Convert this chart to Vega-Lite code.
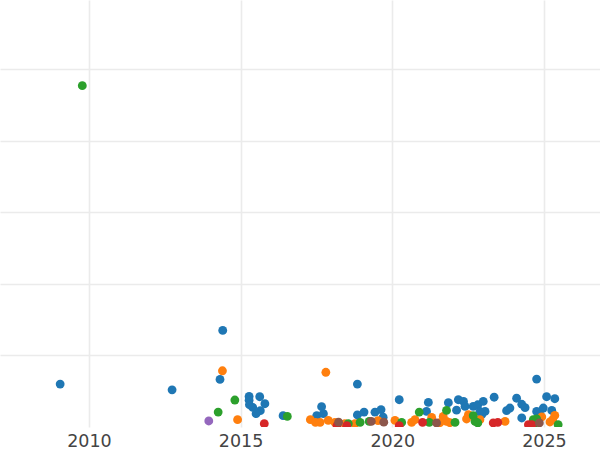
{
  "$schema": "https://vega.github.io/schema/vega-lite/v6.json",
  "width": 600,
  "height": 427,
  "padding": 0,
  "background": "white",
  "config": {
    "view": {"stroke": null},
    "font": "DejaVu Sans",
    "axis": {"gridColor": "#ebebeb", "gridWidth": 1.6, "gridOpacity": 1}
  },
  "data": {
    "values": [
      {"year": 2009.05, "value": 0.60, "group": "A"},
      {"year": 2012.74, "value": 0.52, "group": "A"},
      {"year": 2014.41, "value": 1.35, "group": "A"},
      {"year": 2014.32, "value": 0.665, "group": "A"},
      {"year": 2015.28, "value": 0.427, "group": "A"},
      {"year": 2015.28, "value": 0.374, "group": "A"},
      {"year": 2015.29, "value": 0.311, "group": "A"},
      {"year": 2015.40, "value": 0.274, "group": "A"},
      {"year": 2015.63, "value": 0.423, "group": "A"},
      {"year": 2015.80, "value": 0.325, "group": "A"},
      {"year": 2015.65, "value": 0.228, "group": "A"},
      {"year": 2015.51, "value": 0.186, "group": "A"},
      {"year": 2016.40, "value": 0.158, "group": "A"},
      {"year": 2017.67, "value": 0.284, "group": "A"},
      {"year": 2017.73, "value": 0.186, "group": "A"},
      {"year": 2017.51, "value": 0.158, "group": "A"},
      {"year": 2018.85, "value": 0.60, "group": "A"},
      {"year": 2018.85, "value": 0.168, "group": "A"},
      {"year": 2019.07, "value": 0.209, "group": "A"},
      {"year": 2019.43, "value": 0.207, "group": "A"},
      {"year": 2019.63, "value": 0.242, "group": "A"},
      {"year": 2019.70, "value": 0.137, "group": "A"},
      {"year": 2020.23, "value": 0.381, "group": "A"},
      {"year": 2021.13, "value": 0.218, "group": "A"},
      {"year": 2021.19, "value": 0.344, "group": "A"},
      {"year": 2021.85, "value": 0.339, "group": "A"},
      {"year": 2022.12, "value": 0.235, "group": "A"},
      {"year": 2022.18, "value": 0.381, "group": "A"},
      {"year": 2022.35, "value": 0.358, "group": "A"},
      {"year": 2022.40, "value": 0.288, "group": "A"},
      {"year": 2022.67, "value": 0.288, "group": "A"},
      {"year": 2022.82, "value": 0.311, "group": "A"},
      {"year": 2023.00, "value": 0.358, "group": "A"},
      {"year": 2023.06, "value": 0.218, "group": "A"},
      {"year": 2022.89, "value": 0.218, "group": "A"},
      {"year": 2022.95, "value": 0.172, "group": "A"},
      {"year": 2023.36, "value": 0.416, "group": "A"},
      {"year": 2023.77, "value": 0.228, "group": "A"},
      {"year": 2023.88, "value": 0.265, "group": "A"},
      {"year": 2024.10, "value": 0.402, "group": "A"},
      {"year": 2024.27, "value": 0.318, "group": "A"},
      {"year": 2024.38, "value": 0.270, "group": "A"},
      {"year": 2024.27, "value": 0.126, "group": "A"},
      {"year": 2024.76, "value": 0.670, "group": "A"},
      {"year": 2025.09, "value": 0.423, "group": "A"},
      {"year": 2025.36, "value": 0.395, "group": "A"},
      {"year": 2024.76, "value": 0.218, "group": "A"},
      {"year": 2024.98, "value": 0.265, "group": "A"},
      {"year": 2025.26, "value": 0.232, "group": "A"},
      {"year": 2024.87, "value": 0.172, "group": "A"},
      {"year": 2014.40, "value": 0.786, "group": "B"},
      {"year": 2014.90, "value": 0.102, "group": "B"},
      {"year": 2017.81, "value": 0.765, "group": "B"},
      {"year": 2017.30, "value": 0.102, "group": "B"},
      {"year": 2017.47, "value": 0.064, "group": "B"},
      {"year": 2017.62, "value": 0.064, "group": "B"},
      {"year": 2017.89, "value": 0.092, "group": "B"},
      {"year": 2018.11, "value": 0.064, "group": "B"},
      {"year": 2018.44, "value": 0.046, "group": "B"},
      {"year": 2018.77, "value": 0.046, "group": "B"},
      {"year": 2019.53, "value": 0.088, "group": "B"},
      {"year": 2020.09, "value": 0.092, "group": "B"},
      {"year": 2020.64, "value": 0.064, "group": "B"},
      {"year": 2020.75, "value": 0.102, "group": "B"},
      {"year": 2021.30, "value": 0.134, "group": "B"},
      {"year": 2021.68, "value": 0.148, "group": "B"},
      {"year": 2021.79, "value": 0.078, "group": "B"},
      {"year": 2021.57, "value": 0.060, "group": "B"},
      {"year": 2021.90, "value": 0.060, "group": "B"},
      {"year": 2022.51, "value": 0.172, "group": "B"},
      {"year": 2022.45, "value": 0.112, "group": "B"},
      {"year": 2022.89, "value": 0.102, "group": "B"},
      {"year": 2023.72, "value": 0.078, "group": "B"},
      {"year": 2024.93, "value": 0.140, "group": "B"},
      {"year": 2025.36, "value": 0.162, "group": "B"},
      {"year": 2025.29, "value": 0.102, "group": "B"},
      {"year": 2025.20, "value": 0.070, "group": "B"},
      {"year": 2009.78, "value": 4.771, "group": "C"},
      {"year": 2014.81, "value": 0.377, "group": "C"},
      {"year": 2014.26, "value": 0.209, "group": "C"},
      {"year": 2016.54, "value": 0.148, "group": "C"},
      {"year": 2018.55, "value": 0.046, "group": "C"},
      {"year": 2018.94, "value": 0.064, "group": "C"},
      {"year": 2019.24, "value": 0.078, "group": "C"},
      {"year": 2020.31, "value": 0.064, "group": "C"},
      {"year": 2020.89, "value": 0.209, "group": "C"},
      {"year": 2021.22, "value": 0.064, "group": "C"},
      {"year": 2021.79, "value": 0.232, "group": "C"},
      {"year": 2022.07, "value": 0.064, "group": "C"},
      {"year": 2022.67, "value": 0.158, "group": "C"},
      {"year": 2022.73, "value": 0.078, "group": "C"},
      {"year": 2022.82, "value": 0.056, "group": "C"},
      {"year": 2024.65, "value": 0.102, "group": "C"},
      {"year": 2024.76, "value": 0.112, "group": "C"},
      {"year": 2024.71, "value": 0.056, "group": "C"},
      {"year": 2025.47, "value": 0.032, "group": "C"},
      {"year": 2015.78, "value": 0.046, "group": "D"},
      {"year": 2018.18, "value": 0.018, "group": "D"},
      {"year": 2018.50, "value": 0.018, "group": "D"},
      {"year": 2020.23, "value": 0.018, "group": "D"},
      {"year": 2021.00, "value": 0.064, "group": "D"},
      {"year": 2023.33, "value": 0.056, "group": "D"},
      {"year": 2023.48, "value": 0.064, "group": "D"},
      {"year": 2024.49, "value": 0.032, "group": "D"},
      {"year": 2024.60, "value": 0.032, "group": "D"},
      {"year": 2013.95, "value": 0.084, "group": "E"},
      {"year": 2018.23, "value": 0.067, "group": "F"},
      {"year": 2019.31, "value": 0.078, "group": "F"},
      {"year": 2019.72, "value": 0.067, "group": "F"},
      {"year": 2021.46, "value": 0.056, "group": "F"},
      {"year": 2024.85, "value": 0.056, "group": "F"}
    ]
  },
  "mark": {"type": "circle", "size": 78, "opacity": 1, "clip": true},
  "encoding": {
    "x": {
      "field": "year",
      "type": "quantitative",
      "scale": {"domain": [2007.066, 2026.85], "nice": false, "zero": false},
      "axis": {
        "title": null,
        "values": [2010, 2015, 2020, 2025],
        "format": "d",
        "ticks": false,
        "domain": false,
        "labelFontSize": 17.5,
        "labelColor": "#444444",
        "labelPadding": 5,
        "labelFont": "DejaVu Sans"
      }
    },
    "y": {
      "field": "value",
      "type": "quantitative",
      "scale": {"domain": [0, 5.968], "nice": false, "zero": false},
      "axis": {
        "title": null,
        "values": [1, 2, 3, 4, 5],
        "labels": false,
        "ticks": false,
        "domain": false
      }
    },
    "color": {
      "field": "group",
      "type": "nominal",
      "scale": {
        "domain": ["A", "B", "C", "D", "E", "F"],
        "range": ["#1f77b4", "#ff7f0e", "#2ca02c", "#d62728", "#9467bd", "#8c564b"]
      },
      "legend": null
    }
  }
}
